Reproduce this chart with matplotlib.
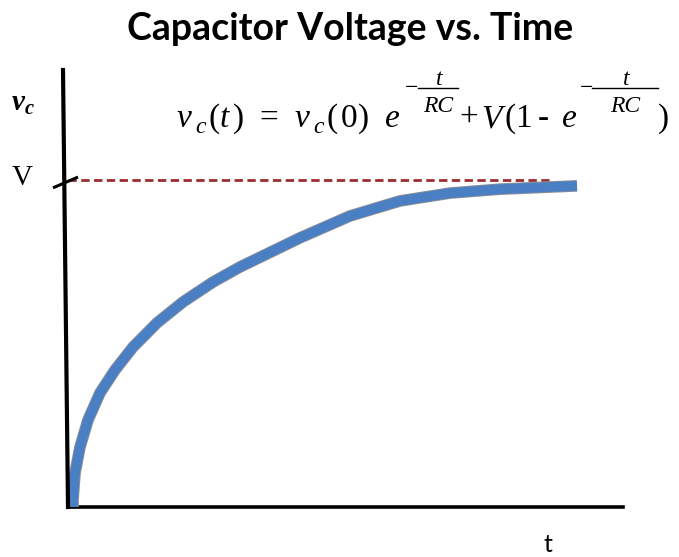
import matplotlib
matplotlib.use("Agg")
import matplotlib.pyplot as plt
import matplotlib.patheffects as pe
from matplotlib.lines import Line2D

# Data, t in arbitrary units, v_c normalised to V = 1
t_vals = [0.090, 0.090, 0.126, 0.216, 0.360, 0.577, 0.847, 1.171, 1.604, 2.072, 2.613,
          3.099, 4.180, 5.081, 5.982, 6.883, 7.784, 9.171]
vc_vals = [0.000, 0.021, 0.104, 0.183, 0.266, 0.349, 0.419, 0.489, 0.563, 0.627, 0.688,
           0.734, 0.823, 0.890, 0.936, 0.960, 0.972, 0.982]
V_level = 1.0
dash_end = 8.74
title = "Capacitor Voltage vs. Time"

plt.rcParams['mathtext.fontset'] = 'custom'
plt.rcParams['mathtext.rm'] = 'Liberation Serif'
plt.rcParams['mathtext.it'] = 'Liberation Serif:italic'
plt.rcParams['mathtext.bf'] = 'Liberation Serif:bold'
plt.rcParams['mathtext.bfit'] = 'Liberation Serif:bold:italic'

W, H = 679, 557
fig = plt.figure(figsize=(W / 100, H / 100), dpi=100)
ax = fig.add_axes([68 / W, (H - 507) / H, (623 - 68) / W, 437 / H])
ax.set_xlim(0, 10)
ax.set_ylim(0, 437 / 327)
for s in ['top', 'right', 'left']:
    ax.spines[s].set_visible(False)
ax.spines['bottom'].set_linewidth(2.6)
ax.set_xticks([])
ax.set_yticks([])

# vertical axis line (slightly tilted in the original)
ax.plot([0, -0.09], [0, 437 / 327], color='black', lw=3.0, clip_on=False,
        solid_capstyle='projecting', zorder=4)

# dashed V level
ax.plot([0, dash_end], [V_level, V_level], color='#9b2d30', lw=2.0,
        linestyle=(0, (3.0, 1.6)), zorder=2)

# capacitor curve
ax.plot(t_vals, vc_vals, color='#4a7fc4', lw=7, solid_capstyle='butt',
        solid_joinstyle='round', zorder=3,
        path_effects=[pe.Stroke(linewidth=8.4, foreground='#8a8f98'), pe.Normal()])

# tick mark at V
ax.plot([-0.27, 0.18], [0.976, 1.009], color='black', lw=2.2, clip_on=False,
        solid_capstyle='butt', zorder=4)


def px(x, y):
    return x / W, 1 - y / H


fig.text(*px(350, 29), title, ha='center', va='center',
         fontsize=27, fontweight='bold', family='Lato')
fig.text(*px(22, 178), "V", ha='center', va='center', fontsize=21,
         family='Liberation Serif')
fig.text(*px(23, 103), r'$\mathbfit{v}_{\mathbfit{c}}$', ha='center', va='center',
         fontsize=21)
fig.text(*px(548, 545), "t", ha='center', va='center', fontsize=18, family='Lato')

# formula v_c(t) = v_c(0) e^(-t/RC) + V(1 - e^(-t/RC)), built from pieces
S, s = 24, 17
base = 127
pieces = [
    ("v", 177, base, S, 'italic'), ("c", 195, base + 6, s, 'italic'),
    ("(", 208, base, S, 'normal'), ("t", 220, base, S, 'italic'), (")", 233, base, S, 'normal'),
    ("=", 259, base, S, 'normal'),
    ("v", 295, base, S, 'italic'), ("c", 313, base + 6, s, 'italic'),
    ("(", 327, base, S, 'normal'), ("0", 341, base, S, 'normal'), (")", 358, base, S, 'normal'),
    ("e", 385, base, S, 'italic'),
    ("+", 459, base, S, 'normal'), ("V", 481, base, S, 'italic'),
    ("(", 504, base, S, 'normal'), ("1", 515, base, S, 'normal'),
    ("-", 538, base, S, 'normal'),
    ("e", 562, base, S, 'italic'),
    (")", 658, base, S, 'normal'),
]
for txt, x, y, size, style in pieces:
    fig.text(*px(x, y), txt, ha='left', va='baseline', fontsize=size,
             fontstyle=style, family='Liberation Serif')

# exponents  -t/RC
for minus_x, bar_x0, bar_x1 in [(405, 418, 458), (580, 592, 658)]:
    cx = (bar_x0 + bar_x1) / 2
    fig.text(*px(minus_x, 94), "\u2212", ha='left', va='baseline', fontsize=s,
             family='Liberation Serif')
    fig.add_artist(Line2D([bar_x0 / W, bar_x1 / W], [1 - 88 / H, 1 - 88 / H],
                          transform=fig.transFigure, color='black', lw=1.0))
    fig.text(*px(cx + 1, 85), "t", ha='center', va='baseline', fontsize=s,
             fontstyle='italic', family='Liberation Serif')
    fig.text(*px(cx, 112), "RC", ha='center', va='baseline', fontsize=s,
             fontstyle='italic', family='Liberation Serif')

fig.savefig("out.png", dpi=100)
